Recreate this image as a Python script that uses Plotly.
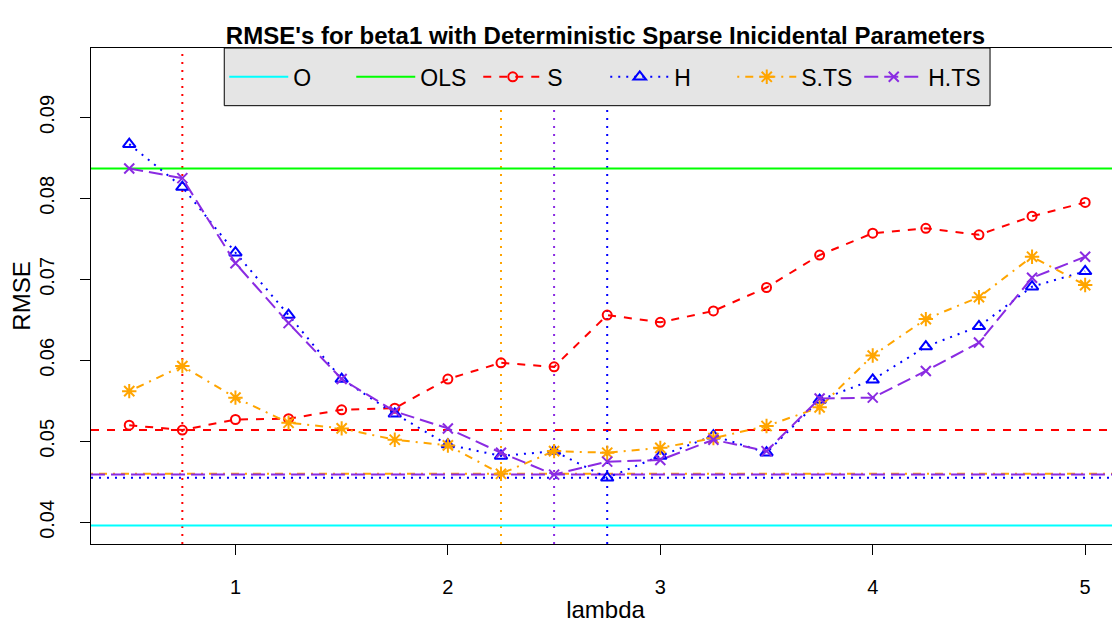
import plotly.graph_objects as go

lam = [0.5, 0.75, 1.0, 1.25, 1.5, 1.75, 2.0, 2.25, 2.5, 2.75,
       3.0, 3.25, 3.5, 3.75, 4.0, 4.25, 4.5, 4.75, 5.0]

rmse_S = [0.0520, 0.0514, 0.0527, 0.0528, 0.0539, 0.0541, 0.0577, 0.0597, 0.0592, 0.0656,
          0.0647, 0.0661, 0.0690, 0.0730, 0.0757, 0.0763, 0.0755, 0.0778, 0.0795]
rmse_H = [0.0867, 0.0814, 0.0733, 0.0656, 0.0577, 0.0534, 0.0496, 0.0482, 0.0488, 0.0455,
          0.0482, 0.0507, 0.0486, 0.0551, 0.0576, 0.0617, 0.0642, 0.0691, 0.0710]
rmse_STS = [0.0562, 0.0593, 0.0554, 0.0523, 0.0516, 0.0502, 0.0495, 0.0460, 0.0488, 0.0486,
            0.0492, 0.0504, 0.0519, 0.0542, 0.0606, 0.0651, 0.0678, 0.0728, 0.0693]
rmse_HTS = [0.0837, 0.0825, 0.0720, 0.0646, 0.0577, 0.0537, 0.0516, 0.0486, 0.0459, 0.0475,
            0.0477, 0.0502, 0.0488, 0.0553, 0.0554, 0.0587, 0.0622, 0.0702, 0.0728]

rmse_O = 0.0396
rmse_OLS = 0.0837

xr = [0.32, 5.164]
yr = [0.03733, 0.09857]
FONT = "Liberation Sans, Arial, Helvetica, sans-serif"

series = [
    ("S", rmse_S, "#FF0000", "8px,8px", "circle-open", 9),
    ("H", rmse_H, "#0000FF", "2px,6px", "triangle-up-open", 11),
    ("S.TS", rmse_STS, "#FFA500", "2px,6px,8px,6px", "asterisk-open", 12),
    ("H.TS", rmse_HTS, "#8A2BE2", "14px,6px", "x-thin-open", 10),
]

fig = go.Figure()

# constant references
fig.add_trace(go.Scatter(x=xr, y=[rmse_O, rmse_O], mode="lines", name="O",
                         line=dict(color="#00FFFF", width=2)))
fig.add_trace(go.Scatter(x=xr, y=[rmse_OLS, rmse_OLS], mode="lines", name="OLS",
                         line=dict(color="#00FF00", width=2)))

for name, vals, col, dash, sym, sz in series:
    m = min(vals)
    best = lam[vals.index(m)]
    fig.add_hline(y=m, line=dict(color=col, width=2, dash=dash), layer="below")
    fig.add_vline(x=best, line=dict(color=col, width=2, dash="2px,6px"), layer="below")
    fig.add_trace(go.Scatter(
        x=lam, y=vals, mode="lines+markers", name=name,
        line=dict(color=col, width=2, dash=dash),
        marker=dict(symbol=sym, size=sz, color=col, line=dict(color=col, width=2)),
    ))

# legend box
fig.add_shape(type="rect", xref="paper", yref="paper",
              x0=0.1295, x1=0.8737, y0=0.8837, y1=1.0,
              fillcolor="#E5E5E5", line=dict(color="black", width=1), layer="above")

# page body keeps an 8px margin, so the figure is shifted up/left to compensate
fig.update_layout(
    width=1120, height=625,
    margin=dict(l=83, r=8, t=40, b=89, autoexpand=False),
    paper_bgcolor="white", plot_bgcolor="white",
    font=dict(family=FONT, color="black", size=20),
    title=dict(text="<b>RMSE's for beta1 with Deterministic Sparse Inicidental Parameters</b>",
               x=0.5, xref="paper", xanchor="center",
               y=1 - 28 / 625, yref="container", yanchor="middle",
               font=dict(size=24, family=FONT)),
    showlegend=True,
    legend=dict(orientation="h", x=0.1295, xanchor="left", y=0.9418, yanchor="middle",
                bgcolor="rgba(0,0,0,0)", borderwidth=0,
                font=dict(size=23, family=FONT),
                entrywidth=53, entrywidthmode="pixels", itemwidth=59,
                tracegroupgap=0),
)

fig.update_xaxes(range=xr, tickvals=[1, 2, 3, 4, 5], ticks="outside", ticklen=10,
                 tickcolor="black", showline=True, linecolor="black", linewidth=1,
                 mirror=True, showgrid=False, zeroline=False, automargin=False,
                 title=dict(text="lambda", standoff=4), ticklabelstandoff=15)
fig.update_yaxes(range=yr, tickvals=[0.04, 0.05, 0.06, 0.07, 0.08, 0.09],
                 tickformat=".2f", tickangle=-90, ticks="outside", ticklen=10,
                 tickcolor="black", showline=True, linecolor="black", linewidth=1,
                 showgrid=False, zeroline=False, automargin=False,
                 title=dict(text="RMSE", standoff=0), ticklabelstandoff=18)

fig.write_html("out.html")
